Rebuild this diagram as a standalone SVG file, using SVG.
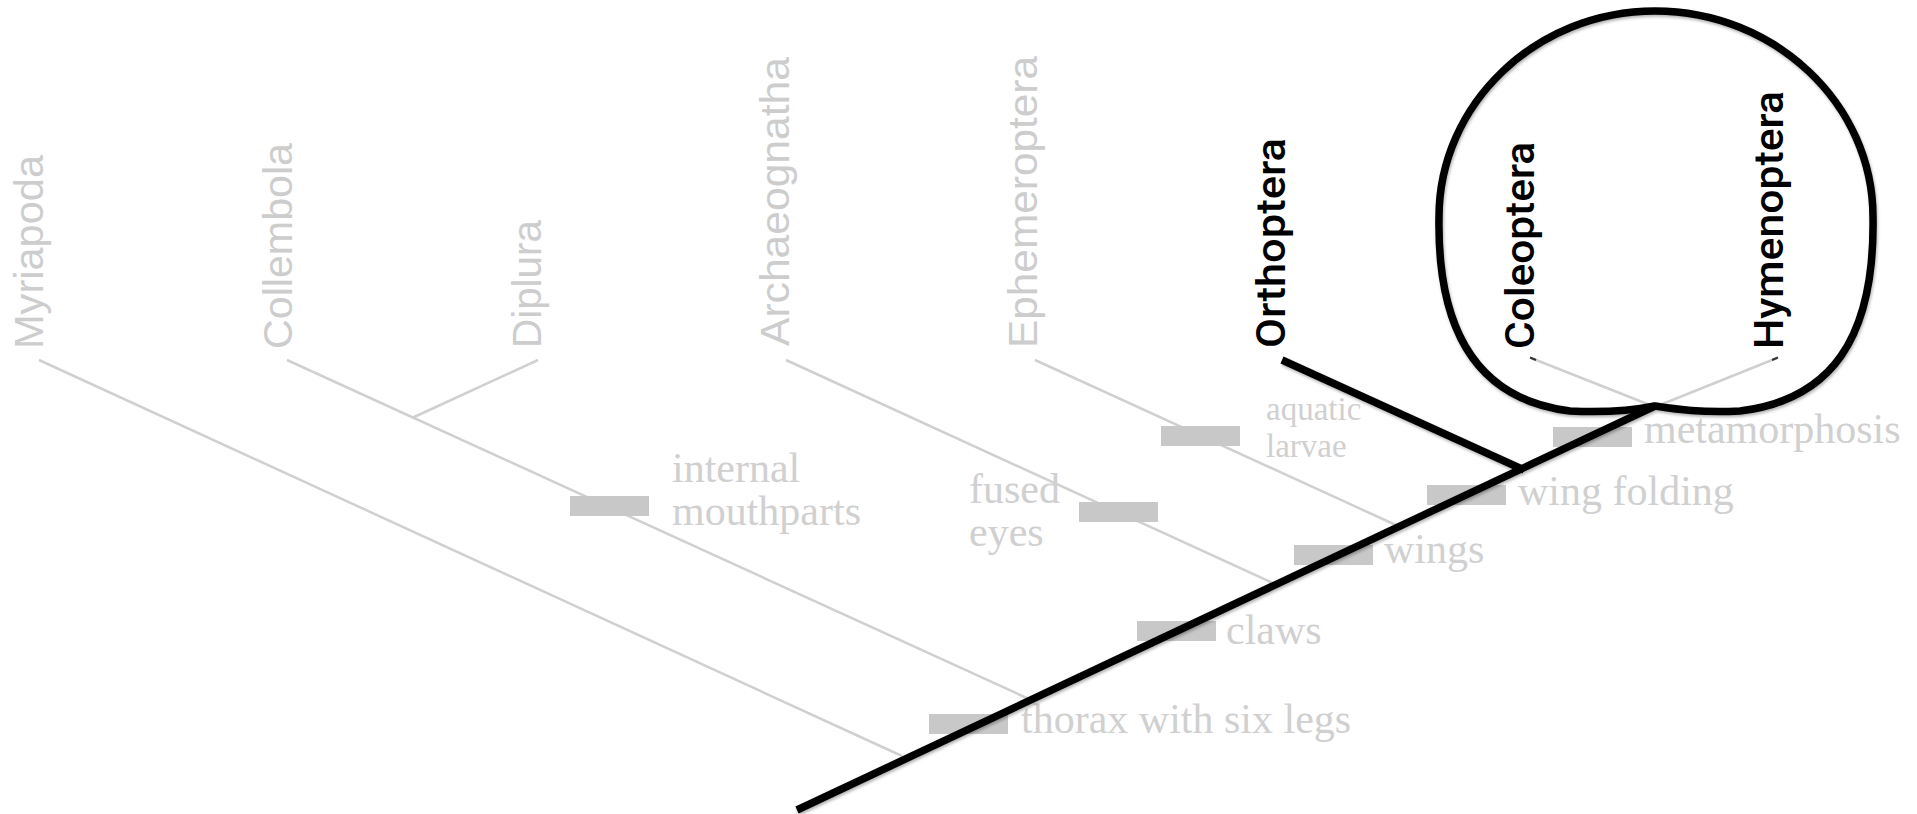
<svg xmlns="http://www.w3.org/2000/svg" width="1917" height="814" viewBox="0 0 1917 814">
<defs>
<style>
.taxon{font-family:"Liberation Sans",Arial,sans-serif;font-size:41px;fill:#cdcdcd}
.hi{font-family:Roboto,"Liberation Sans",Arial,sans-serif;font-weight:500;font-size:40px;fill:#000}
.chr{font-family:"Liberation Serif","Times New Roman",serif;font-size:42px;fill:#d0d0d0}
.small{font-size:33px}
.bar{fill:#c8c8c8}
.gl{stroke:#d0d0d0;stroke-width:2.5;fill:none;stroke-linecap:butt}
.tick{stroke:#333;stroke-width:2;fill:none}
.bl{stroke:#000;stroke-width:7.5;fill:none;stroke-linecap:butt;stroke-linejoin:round}
</style>
<filter id="sh" x="-5%" y="-5%" width="110%" height="115%">
<feDropShadow dx="1" dy="2" stdDeviation="1.5" flood-color="#000" flood-opacity="0.3"/>
</filter>
</defs>
<rect width="1917" height="814" fill="#fff"/>

<g id="connectors">
<line class="gl" x1="797" y1="810" x2="1653" y2="408"/>
<line class="gl" x1="39" y1="360" x2="902" y2="756"/>
<line class="gl" x1="287" y1="360" x2="1029" y2="699"/>
<line class="gl" x1="538" y1="360" x2="412" y2="418"/>
<line class="gl" x1="786" y1="360" x2="1275" y2="584"/>
<line class="gl" x1="1035" y1="360" x2="1398" y2="526"/>
<line class="gl" x1="1531" y1="358" x2="1655" y2="407"/>
<line class="gl" x1="1777" y1="358" x2="1655" y2="407"/>
<line class="tick" x1="1530" y1="357.5" x2="1536" y2="360"/>
<line class="tick" x1="1778" y1="357.5" x2="1772" y2="360"/>
</g>

<g id="char-thorax"><rect class="bar" x="929" y="714" width="79" height="20"/><text class="chr" x="1021" y="733">thorax with six legs</text></g>
<g id="char-mouthparts"><rect class="bar" x="570" y="496" width="79" height="20"/><text class="chr" x="672" y="482">internal</text><text class="chr" x="672" y="525">mouthparts</text></g>
<g id="char-claws"><rect class="bar" x="1137" y="621" width="79" height="20"/><text class="chr" x="1226" y="644">claws</text></g>
<g id="char-eyes"><rect class="bar" x="1079" y="502" width="79" height="20"/><text class="chr" x="969" y="503">fused</text><text class="chr" x="969" y="546">eyes</text></g>
<g id="char-wings"><rect class="bar" x="1294" y="545" width="79" height="20"/><text class="chr" x="1384" y="563">wings</text></g>
<g id="char-larvae"><rect class="bar" x="1161" y="426" width="79" height="20"/><text class="chr small" x="1266" y="420">aquatic</text><text class="chr small" x="1266" y="457">larvae</text></g>
<g id="char-folding"><rect class="bar" x="1427" y="485" width="79" height="20"/><text class="chr" x="1518" y="505">wing folding</text></g>
<g id="char-metamorphosis"><rect class="bar" x="1553" y="427" width="79" height="20"/><text class="chr" x="1644" y="443">metamorphosis</text></g>

<g id="taxon-myriapoda"><text class="taxon" transform="translate(43,349) rotate(-90)" textLength="194" lengthAdjust="spacingAndGlyphs">Myriapoda</text></g>
<g id="taxon-collembola"><text class="taxon" transform="translate(292,349) rotate(-90)" textLength="206" lengthAdjust="spacingAndGlyphs">Collembola</text></g>
<g id="taxon-diplura"><text class="taxon" transform="translate(541,348) rotate(-90)" textLength="128" lengthAdjust="spacingAndGlyphs">Diplura</text></g>
<g id="taxon-archaeognatha"><text class="taxon" transform="translate(789,346) rotate(-90)" textLength="289" lengthAdjust="spacingAndGlyphs">Archaeognatha</text></g>
<g id="taxon-ephemeroptera"><text class="taxon" transform="translate(1037,348) rotate(-90)" textLength="292" lengthAdjust="spacingAndGlyphs">Ephemeroptera</text></g>
<g id="taxon-orthoptera"><text class="hi" transform="translate(1285,348) rotate(-90)" textLength="210" lengthAdjust="spacingAndGlyphs">Orthoptera</text></g>
<g id="taxon-coleoptera"><text class="hi" transform="translate(1534,349) rotate(-90)" textLength="207" lengthAdjust="spacingAndGlyphs">Coleoptera</text></g>
<g id="taxon-hymenoptera"><text class="hi" transform="translate(1783,349) rotate(-90)" textLength="258" lengthAdjust="spacingAndGlyphs">Hymenoptera</text></g>

<g id="highlight" filter="url(#sh)">
<line class="bl" x1="797" y1="810" x2="1655" y2="406"/>
<line class="bl" x1="1282" y1="360" x2="1524" y2="470"/>
<path class="bl" d="M1655,406 C1635,410 1610,413 1570,411 C1480,400 1437,335 1439,217 C1439,104 1536,11 1655,11 C1775,11 1873,104 1873,217 C1875,340 1830,400 1740,411 C1700,413 1675,409 1655,406 Z"/>
</g>
</svg>
